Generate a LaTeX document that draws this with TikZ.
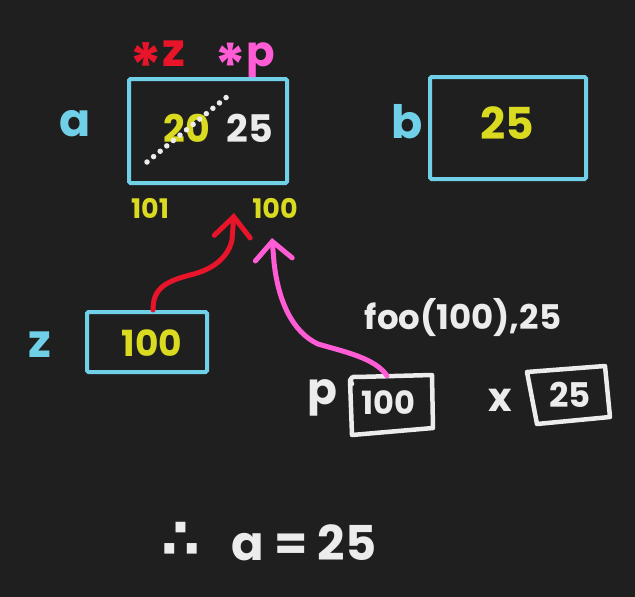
\documentclass[tikz,border=0pt]{standalone}
\usepackage{fontspec}
\setmainfont{Poppins}
\newfontfamily\symfont{DejaVu Sans}
\usetikzlibrary{arrows.meta}
\definecolor{bg}{RGB}{31,31,31}
\definecolor{cyn}{RGB}{112,208,232}
\definecolor{yel}{RGB}{218,218,32}
\definecolor{rd}{RGB}{232,20,42}
\definecolor{pnk}{RGB}{255,92,214}
\definecolor{wht}{RGB}{236,236,236}
\begin{document}
\begin{tikzpicture}[x=1pt,y=-1pt,
  txt/.style={inner sep=0pt, font=\bfseries\fontsize{#1}{#1}\selectfont},
  cyanbox/.style={draw=cyn, line width=4pt, rounded corners=1.5pt, inner sep=0pt},
  wline/.style={draw=wht, line width=4.5pt, line cap=round, line join=round},
  hidbox/.style={inner sep=0pt},
  redarrow/.style={draw=rd, line width=5pt, line cap=round, line join=round,
    -{Straight Barb[length=20pt,width=36pt,line cap=round]}},
  pinkarrow/.style={draw=pnk, line width=5pt, line cap=round, line join=round,
    -{Straight Barb[length=18pt,width=37pt,line cap=round]}}]
\fill[bg] (0,0) rectangle (635,597);
\useasboundingbox (0,0) rectangle (635,597);

% box a
\node[cyanbox, minimum width=158pt, minimum height=104pt] (boxa) at (208,131) {};
\node[txt=38, text=yel] (v20) at (187,128) {20};
\node[txt=38, text=wht] (v25) at (250,128) {25};
\node[txt=46, text=cyn] (la) at (75,124) {a};
\node[txt=46, text=rd, anchor=base] (sz) at (157,66) {{\fontsize{62}{62}\selectfont\raisebox{-0.36em}{*}}z};
\node[txt=42, text=pnk, anchor=base] (sp) at (245,66) {{\fontsize{60}{60}\selectfont\raisebox{-0.36em}{*}}p};
\node[txt=27, text=yel] (a101) at (150,208) {101};
\node[txt=27, text=yel] (a100) at (275,208) {100};
\coordinate (s1) at (147,162);
\coordinate (s2) at (228,96);
\draw[wht, line width=5.5pt, line cap=round, dash pattern=on 0pt off 8.5pt] (s1) -- (s2);

% box b
\node[cyanbox, minimum width=156pt, minimum height=102pt] (boxb) at (508,128) {};
\node[txt=44, text=yel] (vb) at (507,123) {25};
\node[txt=46, text=cyn] (lb) at (407,122) {b};

% box z
\node[cyanbox, minimum width=120pt, minimum height=60pt] (boxz) at (147,342) {};
\node[txt=36, text=yel] (vz) at (152,343) {100};
\node[txt=46, text=cyn] (lz) at (40,345) {z};

% call
\node[txt=34, text=wht] (call) at (463,318) {foo(100),25};

% box p
\node[hidbox, minimum width=82pt, minimum height=56pt] (pbox) at (391,404) {};
\draw[wline] (352,384) .. controls (349,378) and (352,376) .. (357,377) -- (432,375) -- (433,428) -- (352,435) -- (350,380);
\node[txt=32, text=wht] (vp) at (388,403) {100};
\node[txt=44, text=wht] (lp) at (322,398) {p};

% box x
\node[hidbox, minimum width=80pt, minimum height=54pt] (xbox) at (569,395) {};
\draw[wline] (527,372) -- (605,366) -- (610,417) -- (537,424) -- cycle;
\node[txt=34, text=wht] (vx) at (570,395) {25};
\node[txt=40, text=wht] (lx) at (500,400) {x};

% arrows
\coordinate (rtip) at (234,213);
\coordinate (ptip) at (272,238);
\draw[redarrow] ([xshift=6pt]boxz.north) .. controls (153,290) and (163,282) .. (190,275) .. controls (212,270) and (228,258) .. (232,240) -- (rtip);
\draw[pinkarrow] ([xshift=-4pt]pbox.north) .. controls (375,358) and (345,352) .. (318,344) .. controls (292,332) and (278,300) .. (274,262) -- (ptip);

% conclusion
\node[text=wht, inner sep=0pt, font=\symfont\bfseries\fontsize{56}{56}\selectfont] (ther) at (181,540) {∴};
\node[txt=48, text=wht] (concl) at (304,543) {a = 25};
\end{tikzpicture}
\end{document}
